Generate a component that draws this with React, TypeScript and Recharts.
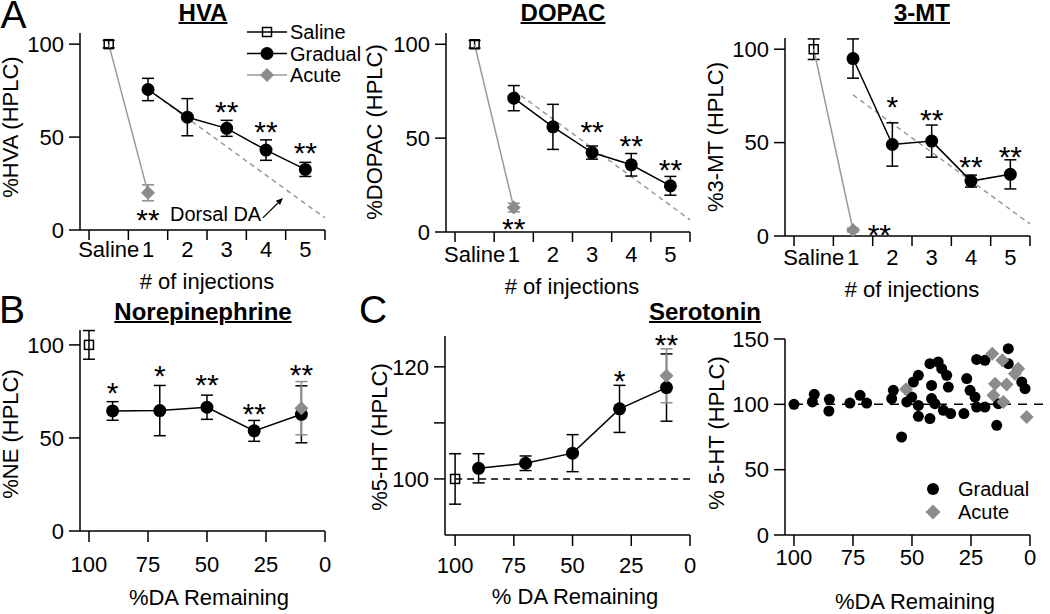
import React from "react";
import { ScatterChart, Scatter, XAxis, YAxis, ErrorBar, ReferenceLine } from "recharts";

const FONT = '"Liberation Sans", Arial, Helvetica, sans-serif';
const GRAY = "#8c8c8c";
const LINE_GRAY = "#9a9a9a";

// ---------- A: values per # of injections ----------
const binLabels = ["Saline", "1", "2", "3", "4", "5"];
const injections = [1, 2, 3, 4, 5];
const dorsalDA = [{ x: 1.5, y: 75.5 }, { x: 6, y: 6.5 }];

const hvaMean = [75.6, 60.7, 54.7, 43, 32.6];
const hvaErr = [6, 10, 4.3, 5.5, 3.8];
const hvaSaline = { y: 100, e: 2 };
const hvaAcute = { y: 20, e: 4.3 };
const hvaStars = [
  { x: 3.5, y: 67.2, t: "**" },
  { x: 4.5, y: 56.5, t: "**" },
  { x: 5.5, y: 45.2, t: "**" },
  { x: 1.5, y: 9.1, t: "**" },
];
const hvaNote = [{ x: 2.06, y: 8.6, t: "Dorsal DA" }];
const hvaArrow = [{ x: 4.42, y: 6.5 }, { x: 4.93, y: 17.2 }];

const dopacMean = [71.3, 56, 42.3, 35.8, 24.6];
const dopacErr = [6.7, 12, 3.5, 6, 5];
const dopacSaline = { y: 100, e: 2 };
const dopacAcute = { y: 13, e: 2.3 };
const dopacStars = [
  { x: 3.5, y: 57, t: "**" },
  { x: 4.5, y: 49.6, t: "**" },
  { x: 5.5, y: 36.9, t: "**" },
  { x: 1.5, y: 5.1, t: "**" },
];

const mtMean = [95, 49, 50.8, 29.4, 33];
const mtErr = [10.5, 11.6, 8.6, 3.2, 7.8];
const mtSaline = { y: 100, e: 5.5 };
const mtAcute = { y: 3.2, e: 1 };
const mtStars = [
  { x: 2.5, y: 72.7, t: "*" },
  { x: 3.5, y: 65.6, t: "**" },
  { x: 4.5, y: 40.6, t: "**" },
  { x: 5.5, y: 46, t: "**" },
  { x: 2.17, y: 4.4, t: "**" },
];

// ---------- B / C: values per %DA remaining ----------
const daLevels = [90, 70, 50, 30, 10];

const neMean = [64.5, 64.7, 66.5, 53.8, 62.7];
const neErr = [5, 13.5, 6.5, 5.6, 15.3];
const neSaline = { y: 100, e: 7.7 };
const neAcute = { y: 66, e: 14.3 };
const neStars = [
  { x: 90, y: 78, t: "*" },
  { x: 70, y: 87, t: "*" },
  { x: 50, y: 82, t: "**" },
  { x: 30, y: 66.5, t: "**" },
  { x: 10, y: 87.8, t: "**" },
];

const htMean = [101.9, 102.8, 104.6, 112.5, 116.3];
const htErr = [2.6, 1.3, 3.3, 4.2, 6];
const htSaline = { y: 100, e: 4.5 };
const htAcute = { y: 118.4, e: 4.8 };
const htStars = [
  { x: 30, y: 118.8, t: "*" },
  { x: 10, y: 125.1, t: "**" },
];

// individual animals (right scatter)
const gradualDA = [
  100, 92.2, 91.4, 85, 85.2, 76.3, 72, 69.2, 57.9, 58.6, 52.2, 50.1, 54.4, 49.4, 47.3, 47.3, 47.3,
  42.4, 38.9, 37.4, 35.3, 34.6, 41.7, 41.7, 40.3, 42.4, 36.7, 33.6, 28, 26.8, 25.4, 23.3, 22.6,
  19.1, 22.6, 19.1, 9.2, 9.2, 3.5, 2.1, 14.1, 13.4,
];
const gradual5HT = [
  100, 101.8, 107.7, 103.8, 94.9, 101, 106.9, 101, 110.7, 104.4, 101.8, 105.6, 75, 117.1, 122.2, 99.2, 90.8,
  131.1, 132.4, 127.3, 122.2, 113.2, 114.5, 104.4, 100.5, 89.1, 95.4, 92.9, 92.9, 119.7, 110.7, 105.6, 97.9,
  97.9, 134.4, 133.7, 142.6, 131.1, 117.1, 112, 83.9, 100.5,
];
const acuteDA = [52.5, 16, 11.7, 5, 6.4, 14.8, 9.9, 15.5, 11.3, 1.4];
const acute5HT = [111.5, 138.8, 133.7, 127.3, 123.5, 115.8, 115.1, 106.9, 101.8, 90.3];

const legendA = ["Saline", "Gradual", "Acute"];
const legendC = ["Gradual", "Acute"];

// ---------- shapes ----------
const axisStroke = { stroke: "#000", strokeWidth: 1.5 };
const tickStyle = { fontSize: 22, fill: "#000", fontFamily: FONT };

const noShape = () => <g />;
const dot = (r: number, fill: string) => (p: any) => <circle cx={p.cx} cy={p.cy} r={r} fill={fill} />;
const diamond = (h: number, fill: string) => (p: any) => (
  <path d={`M${p.cx},${p.cy - h}L${p.cx + h},${p.cy}L${p.cx},${p.cy + h}L${p.cx - h},${p.cy}Z`} fill={fill} />
);
const square = (s: number) => (p: any) => (
  <rect x={p.cx - s / 2} y={p.cy - s / 2} width={s} height={s} fill="none" stroke="#000" strokeWidth={1.5} />
);
const starShape = (p: any) => (
  <text x={p.cx} y={p.cy + 17} textAnchor="middle" fontSize={30} fontFamily={FONT} fill="#000">
    {p.payload.t}
  </text>
);
const noteShape = (p: any) => (
  <text x={p.cx} y={p.cy + 7} textAnchor="start" fontSize={20} fontFamily={FONT} fill="#000">
    {p.payload.t}
  </text>
);
const arrowShape = (p: any) => {
  const { x1, y1, x2, y2 } = p;
  const a = Math.atan2(y2 - y1, x2 - x1);
  const bx = x2 - 7 * Math.cos(a);
  const by = y2 - 7 * Math.sin(a);
  const px = -Math.sin(a) * 3;
  const py = Math.cos(a) * 3;
  return (
    <g>
      <line x1={x1} y1={y1} x2={bx} y2={by} stroke="#000" strokeWidth={1.2} />
      <path d={`M${x2},${y2}L${bx + px},${by + py}L${bx - px},${by - py}Z`} fill="#000" />
    </g>
  );
};

function BinTick(props: any) {
  const { x, y, payload, half, offY } = props;
  const label = binLabels[payload.value];
  if (label === undefined) return <g />;
  return (
    <text x={x + half} y={y + offY} textAnchor="middle" fontSize={22} fontFamily={FONT} fill="#000">
      {label}
    </text>
  );
}

function Txt(p: { x: number; y: number; size?: number; bold?: boolean; underline?: boolean; rotate?: boolean; children: React.ReactNode }) {
  return (
    <div
      style={{
        position: "absolute",
        left: p.x,
        top: p.y,
        transform: `translate(-50%, -50%)${p.rotate ? " rotate(-90deg)" : ""}`,
        fontFamily: FONT,
        fontSize: p.size ?? 22,
        fontWeight: p.bold ? 700 : 400,
        textDecoration: p.underline ? "underline" : "none",
        textDecorationThickness: p.underline ? 2 : undefined,
        lineHeight: 1,
        whiteSpace: "nowrap",
        color: "#000",
      }}
    >
      {p.children}
    </div>
  );
}

type Stat = { y: number; e: number };
type Pt = { x: number; y: number; t?: string };

function InjectionPanel(p: {
  left: number; width: number; yAxisW: number; mTop: number; xAxisH: number; offY: number;
  mean: number[]; err: number[]; saline: Stat; acute: Stat; stars: Pt[]; note?: Pt[]; arrow?: Pt[];
}) {
  const plotW = p.width - p.yAxisW - 20;
  const half = plotW / (6 + 0.23) / 2;
  const gradual = injections.map((n, i) => ({ x: n + 0.5, y: p.mean[i], e: p.err[i] }));
  const saline = [{ x: 0.5, y: p.saline.y, e: p.saline.e }];
  const acute = [{ x: 1.5, y: p.acute.y, e: p.acute.e }];
  const link = [{ x: 0.5, y: p.saline.y }, { x: 1.5, y: p.acute.y }];
  return (
    <div style={{ position: "absolute", left: p.left, top: 0 }}>
      <ScatterChart width={p.width} height={270} margin={{ top: p.mTop, right: 20, bottom: 5, left: 0 }}>
        <XAxis type="number" dataKey="x" domain={[-0.23, 6]} ticks={[0, 1, 2, 3, 4, 5, 6]} interval={0}
          tickSize={10} tickMargin={2} height={p.xAxisH} axisLine={axisStroke} tickLine={axisStroke}
          tick={<BinTick half={half} offY={p.offY} />} />
        <YAxis type="number" dataKey="y" domain={[0, 106]} ticks={[0, 50, 100]} interval={0} width={p.yAxisW}
          tickSize={11} tickMargin={5} axisLine={axisStroke} tickLine={axisStroke} tick={tickStyle} />
        <ReferenceLine segment={dorsalDA} stroke={LINE_GRAY} strokeWidth={1.5} strokeDasharray="5 4" ifOverflow="visible" />
        {p.arrow && <ReferenceLine segment={p.arrow} shape={arrowShape} ifOverflow="visible" />}
        <Scatter data={link} line={{ stroke: LINE_GRAY, strokeWidth: 1.5 }} shape={noShape} isAnimationActive={false} />
        <Scatter data={acute} shape={diamond(7, GRAY)} isAnimationActive={false}>
          <ErrorBar dataKey="e" direction="y" width={6} stroke={GRAY} strokeWidth={1.5} />
        </Scatter>
        <Scatter data={gradual} line={{ stroke: "#000", strokeWidth: 1.5 }} shape={dot(6.5, "#000")} isAnimationActive={false}>
          <ErrorBar dataKey="e" direction="y" width={6} stroke="#000" strokeWidth={1.5} />
        </Scatter>
        <Scatter data={saline} shape={square(9)} isAnimationActive={false}>
          <ErrorBar dataKey="e" direction="y" width={6} stroke="#000" strokeWidth={1.5} />
        </Scatter>
        <Scatter data={p.stars} shape={starShape} isAnimationActive={false} />
        {p.note && <Scatter data={p.note} shape={noteShape} isAnimationActive={false} />}
      </ScatterChart>
    </div>
  );
}

function DAPanel(p: {
  left: number; width: number; height: number; yAxisW: number; mTop: number; xAxisH: number; tickMargin: number;
  yDomain: number[]; yTicks: number[]; xMax: number;
  mean: number[]; err: number[]; saline: Stat; acute: Stat; stars: Pt[]; baseline?: boolean;
}) {
  const gradual = daLevels.map((d, i) => ({ x: d, y: p.mean[i], e: p.err[i] }));
  const saline = [{ x: 100, y: p.saline.y, e: p.saline.e }];
  const acute = [{ x: 10, y: p.acute.y, e: p.acute.e }];
  return (
    <div style={{ position: "absolute", left: p.left, top: 290 }}>
      <ScatterChart width={p.width} height={p.height} margin={{ top: p.mTop, right: 20, bottom: 5, left: 0 }}>
        <XAxis type="number" dataKey="x" domain={[0, p.xMax]} reversed ticks={[0, 25, 50, 75, 100]} interval={0}
          tickSize={11} tickMargin={p.tickMargin} height={p.xAxisH} axisLine={axisStroke} tickLine={axisStroke} tick={tickStyle} />
        <YAxis type="number" dataKey="y" domain={p.yDomain} ticks={p.yTicks} interval={0} width={p.yAxisW}
          tickFormatter={(v: number) => (v === 110 ? "" : String(v))}
          tickSize={11} tickMargin={5} axisLine={axisStroke} tickLine={axisStroke} tick={tickStyle} />
        {p.baseline && (
          <ReferenceLine segment={[{ x: 100, y: 100 }, { x: 0, y: 100 }]} stroke="#000" strokeWidth={1.5} strokeDasharray="7 5" />
        )}
        <Scatter data={saline} shape={square(9)} isAnimationActive={false}>
          <ErrorBar dataKey="e" direction="y" width={6} stroke="#000" strokeWidth={1.5} />
        </Scatter>
        <Scatter data={gradual} line={{ stroke: "#000", strokeWidth: 1.5 }} shape={dot(6.5, "#000")} isAnimationActive={false}>
          <ErrorBar dataKey="e" direction="y" width={6} stroke="#000" strokeWidth={1.5} />
        </Scatter>
        <Scatter data={acute} shape={diamond(7, GRAY)} isAnimationActive={false}>
          <ErrorBar dataKey="e" direction="y" width={6} stroke={GRAY} strokeWidth={1.5} />
        </Scatter>
        <Scatter data={p.stars} shape={starShape} isAnimationActive={false} />
      </ScatterChart>
    </div>
  );
}

function AnimalScatter() {
  const gradual = gradualDA.map((d, i) => ({ x: d, y: gradual5HT[i] }));
  const acute = acuteDA.map((d, i) => ({ x: d, y: acute5HT[i] }));
  return (
    <div style={{ position: "absolute", left: 720, top: 290 }}>
      <ScatterChart width={330} height={310} margin={{ top: 49, right: 20, bottom: 5, left: 0 }}>
        <XAxis type="number" dataKey="x" domain={[0, 103.8]} reversed ticks={[0, 25, 50, 75, 100]} interval={0}
          tickSize={11} tickMargin={3.4} height={60} axisLine={axisStroke} tickLine={axisStroke} tick={tickStyle} />
        <YAxis type="number" dataKey="y" domain={[0, 150]} ticks={[0, 50, 100, 150]} interval={0} width={65}
          tickSize={11} tickMargin={5} axisLine={axisStroke} tickLine={axisStroke} tick={tickStyle} />
        <ReferenceLine segment={[{ x: 100, y: 100 }, { x: -8.5, y: 100 }]} stroke="#000" strokeWidth={1.5}
          strokeDasharray="9 7" ifOverflow="visible" />
        <Scatter data={gradual} shape={dot(5.5, "#000")} isAnimationActive={false} />
        <Scatter data={acute} shape={diamond(7, GRAY)} isAnimationActive={false} />
      </ScatterChart>
    </div>
  );
}

function LegendA() {
  return (
    <svg style={{ position: "absolute", left: 240, top: 21 }} width={130} height={66}>
      {legendA.map((name, i) => {
        const y = 11 + i * 21.5;
        const c = i === 2 ? LINE_GRAY : "#000";
        return (
          <g key={name}>
            <line x1={7} y1={y} x2={47} y2={y} stroke={c} strokeWidth={1.5} />
            {i === 0 && square(9)({ cx: 27, cy: y })}
            {i === 1 && <circle cx={27} cy={y} r={6.5} fill="#000" />}
            {i === 2 && diamond(7, GRAY)({ cx: 27, cy: y })}
            <text x={50} y={y + 7} fontSize={20} fontFamily={FONT} fill="#000">{name}</text>
          </g>
        );
      })}
    </svg>
  );
}

function LegendC() {
  return (
    <svg style={{ position: "absolute", left: 920, top: 476 }} width={120} height={50}>
      {legendC.map((name, i) => {
        const y = 13 + i * 23;
        return (
          <g key={name}>
            {i === 0 ? <circle cx={13} cy={y} r={6} fill="#000" /> : diamond(7.5, GRAY)({ cx: 13, cy: y })}
            <text x={38} y={y + 7} fontSize={20} fontFamily={FONT} fill="#000">{name}</text>
          </g>
        );
      })}
    </svg>
  );
}

export default function App() {
  return (
    <div style={{ position: "absolute", left: 0, top: 0, width: 1050, height: 614, background: "#fff", overflow: "hidden" }}>
      <InjectionPanel left={0} width={345} yAxisW={80} mTop={33} xAxisH={35} offY={15}
        mean={hvaMean} err={hvaErr} saline={hvaSaline} acute={hvaAcute} stars={hvaStars} note={hvaNote} arrow={hvaArrow} />
      <InjectionPanel left={350} width={360} yAxisW={96} mTop={33} xAxisH={33} offY={18}
        mean={dopacMean} err={dopacErr} saline={dopacSaline} acute={dopacAcute} stars={dopacStars} />
      <InjectionPanel left={700} width={350} yAxisW={85} mTop={38} xAxisH={29} offY={17}
        mean={mtMean} err={mtErr} saline={mtSaline} acute={mtAcute} stars={mtStars} />
      <LegendA />

      <DAPanel left={0} width={345} height={300} yAxisW={80} mTop={40} xAxisH={54} tickMargin={14.4}
        yDomain={[0, 108]} yTicks={[0, 50, 100]} xMax={103.8}
        mean={neMean} err={neErr} saline={neSaline} acute={neAcute} stars={neStars} />
      <DAPanel left={390} width={320} height={310} yAxisW={55} mTop={46} xAxisH={60} tickMargin={11.4}
        yDomain={[90, 125.5]} yTicks={[100, 110, 120]} xMax={104.3} baseline
        mean={htMean} err={htErr} saline={htSaline} acute={htAcute} stars={htStars} />
      <AnimalScatter />
      <LegendC />

      <Txt x={13.5} y={14} size={39}>A</Txt>
      <Txt x={12} y={309} size={39}>B</Txt>
      <Txt x={373} y={309} size={39}>C</Txt>

      <Txt x={203} y={13} size={24} bold underline>HVA</Txt>
      <Txt x={563} y={13} size={24} bold underline>DOPAC</Txt>
      <Txt x={922} y={13} size={24} bold underline>3-MT</Txt>
      <Txt x={203} y={312} size={24} bold underline>Norepinephrine</Txt>
      <Txt x={705} y={312} size={24} bold underline>Serotonin</Txt>

      <Txt x={11} y={127} rotate>%HVA (HPLC)</Txt>
      <Txt x={375} y={132} rotate>%DOPAC (HPLC)</Txt>
      <Txt x={716} y={137} rotate>%3-MT (HPLC)</Txt>
      <Txt x={11} y={434} rotate>%NE (HPLC)</Txt>
      <Txt x={380} y={437} rotate>%5-HT (HPLC)</Txt>
      <Txt x={717} y={433} rotate>% 5-HT (HPLC)</Txt>

      <Txt x={207} y={282}># of injections</Txt>
      <Txt x={572} y={287}># of injections</Txt>
      <Txt x={912} y={290}># of injections</Txt>
      <Txt x={209} y={598}>%DA Remaining</Txt>
      <Txt x={575} y={597}>% DA Remaining</Txt>
      <Txt x={915} y={602}>%DA Remaining</Txt>
    </div>
  );
}
